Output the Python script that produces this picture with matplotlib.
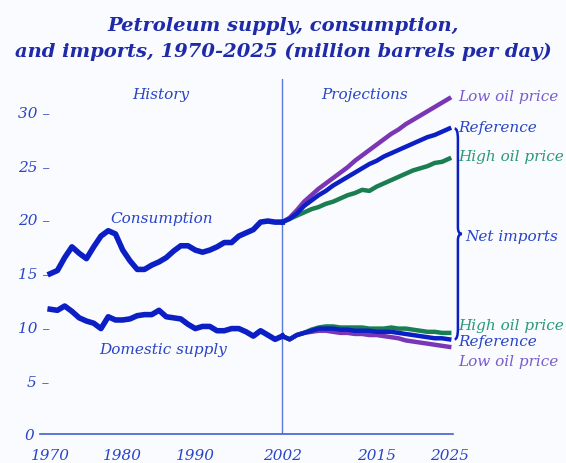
import matplotlib
matplotlib.use("Agg")
import matplotlib.pyplot as plt
from matplotlib.path import Path
from matplotlib.patches import PathPatch

# ---- data ----
hist_years = list(range(1970, 2003))
consumption_hist = [14.9, 15.2, 16.4, 17.4, 16.8, 16.3, 17.4, 18.4, 18.9, 18.6,
                    17.1, 16.1, 15.3, 15.3, 15.7, 16.0, 16.4, 17.0, 17.5, 17.5,
                    17.1, 16.9, 17.1, 17.4, 17.8, 17.8, 18.4, 18.7, 19.0, 19.7,
                    19.8, 19.7, 19.7]
supply_hist = [11.6, 11.5, 11.9, 11.4, 10.8, 10.5, 10.3, 9.8, 10.9, 10.6,
               10.6, 10.7, 11.0, 11.1, 11.1, 11.5, 10.9, 10.8, 10.7, 10.2,
               9.8, 10.0, 10.0, 9.6, 9.6, 9.8, 9.8, 9.5, 9.1, 9.6,
               9.2, 8.8, 9.1]

proj_years = list(range(2002, 2026))
cons_ref = [19.7, 20.0, 20.5, 21.2, 21.7, 22.2, 22.6, 23.1, 23.5, 23.9, 24.3, 24.7,
            25.1, 25.4, 25.8, 26.1, 26.4, 26.7, 27.0, 27.3, 27.6, 27.8, 28.1, 28.4]
cons_low = [19.7, 20.1, 20.8, 21.6, 22.2, 22.8, 23.3, 23.8, 24.3, 24.8, 25.4, 25.9,
            26.4, 26.9, 27.4, 27.9, 28.3, 28.8, 29.2, 29.6, 30.0, 30.4, 30.8, 31.2]
cons_high = [19.7, 20.0, 20.3, 20.6, 20.9, 21.1, 21.4, 21.6, 21.9, 22.2, 22.4, 22.7,
             22.6, 23.0, 23.3, 23.6, 23.9, 24.2, 24.5, 24.7, 24.9, 25.2, 25.3, 25.6]
supp_ref = [9.1, 8.8, 9.2, 9.4, 9.6, 9.8, 9.8, 9.8, 9.7, 9.7, 9.6, 9.6,
            9.6, 9.5, 9.5, 9.5, 9.4, 9.3, 9.2, 9.1, 9.0, 8.9, 8.9, 8.8]
supp_high = [9.1, 8.8, 9.2, 9.4, 9.7, 9.9, 10.0, 10.0, 9.9, 9.9, 9.9, 9.9,
             9.8, 9.8, 9.8, 9.9, 9.8, 9.8, 9.7, 9.6, 9.5, 9.5, 9.4, 9.4]
supp_low = [9.1, 8.8, 9.2, 9.4, 9.5, 9.6, 9.6, 9.5, 9.4, 9.4, 9.3, 9.3,
            9.2, 9.2, 9.1, 9.0, 8.9, 8.7, 8.6, 8.5, 8.4, 8.3, 8.2, 8.1]

x_ticks = [1970, 1980, 1990, 2002, 2015, 2025]
y_ticks = [0, 5, 10, 15, 20, 25, 30]

# ---- style ----
BLUE = "#0c1fc4"
TXT_BLUE = "#2a44c6"
PURPLE = "#7a36b4"
TXT_PURPLE = "#7a5ccc"
GREEN = "#1a7e50"
TXT_GREEN = "#2a9a78"
BG = "#f9fbfe"
FONT = "DejaVu Serif"

fig = plt.figure(figsize=(5.66, 4.64), dpi=100, facecolor=BG)
ax = fig.add_axes([0.0707, 0.0625, 0.730, 0.765])
ax.set_facecolor(BG)
ax.set_xlim(1968.6, 2025.55)
ax.set_ylim(0, 33)

for s in ["top", "right", "left"]:
    ax.spines[s].set_visible(False)
ax.spines["bottom"].set_color("#4060d0")
ax.spines["bottom"].set_linewidth(1.2)

ax.set_xticks(x_ticks)
ax.set_xticklabels([str(v) for v in x_ticks])
ax.set_yticks(y_ticks)
ax.set_yticklabels([("%d\u2003" % v) if v == 0 else ("%d \u2013" % v) for v in y_ticks])
ax.tick_params(length=0)
ax.tick_params(axis="x", pad=10)
ax.tick_params(axis="y", pad=-7)
for lab in ax.get_xticklabels() + ax.get_yticklabels():
    lab.set_fontfamily(FONT)
    lab.set_fontstyle("italic")
    lab.set_fontsize(11)
    lab.set_color(TXT_BLUE)

ax.axvline(2002, color="#5a78d8", lw=1.0, zorder=1)

lw_h = 4.0
lw_p = 3.2
ax.plot(hist_years, consumption_hist, color=BLUE, lw=lw_h, solid_joinstyle="round", zorder=3)
ax.plot(hist_years, supply_hist, color=BLUE, lw=lw_h, solid_joinstyle="round", zorder=3)
ax.plot(proj_years, cons_low, color=PURPLE, lw=lw_p, zorder=2)
ax.plot(proj_years, cons_high, color=GREEN, lw=lw_p, zorder=2)
ax.plot(proj_years, cons_ref, color=BLUE, lw=lw_p, zorder=3)
ax.plot(proj_years, supp_low, color=PURPLE, lw=lw_p, zorder=2)
ax.plot(proj_years, supp_high, color=GREEN, lw=lw_p, zorder=2)
ax.plot(proj_years, supp_ref, color=BLUE, lw=lw_p, zorder=3)

tk = dict(fontfamily=FONT, fontstyle="italic", fontsize=11)
ax.text(1985.2, 31.6, "History", color=TXT_BLUE, ha="center", va="center", **tk)
ax.text(2013.4, 31.6, "Projections", color=TXT_BLUE, ha="center", va="center", **tk)
ax.text(1985.4, 20.1, "Consumption", color=TXT_BLUE, ha="center", va="center", **tk)
ax.text(1985.6, 7.9, "Domestic supply", color=TXT_BLUE, ha="center", va="center", **tk)

lx = 2026.2
ax.text(lx, 31.4, "Low oil price", color=TXT_PURPLE, ha="left", va="center", clip_on=False, **tk)
ax.text(lx, 28.5, "Reference", color=TXT_BLUE, ha="left", va="center", clip_on=False, **tk)
ax.text(lx, 25.8, "High oil price", color=TXT_GREEN, ha="left", va="center", clip_on=False, **tk)
ax.text(2027.2, 18.4, "Net imports", color=TXT_BLUE, ha="left", va="center", clip_on=False, **tk)
ax.text(lx, 10.1, "High oil price", color=TXT_GREEN, ha="left", va="center", clip_on=False, **tk)
ax.text(lx, 8.6, "Reference", color=TXT_BLUE, ha="left", va="center", clip_on=False, **tk)
ax.text(lx, 6.8, "Low oil price", color=TXT_PURPLE, ha="left", va="center", clip_on=False, **tk)

# curly brace for net imports
top = cons_ref[-1]
bot = supp_ref[-1]
mid = (top + bot) / 2
x0 = 2025.75
xb = x0 + 0.45
xm = x0 + 1.0
verts = [
    (x0, top), (xb, top), (xb, top - 1.0),
    (xb, mid + 0.6),
    (xb, mid), (xm, mid),
    (xb, mid), (xb, mid - 0.6),
    (xb, bot + 1.0),
    (xb, bot), (x0, bot),
]
codes = [Path.MOVETO, Path.CURVE3, Path.CURVE3,
         Path.LINETO,
         Path.CURVE3, Path.CURVE3,
         Path.CURVE3, Path.CURVE3,
         Path.LINETO,
         Path.CURVE3, Path.CURVE3]
ax.add_patch(PathPatch(Path(verts, codes), fill=False, edgecolor=BLUE, lw=1.8,
                       clip_on=False, zorder=4))

title_kw = dict(ha="center", va="center", fontfamily=FONT, fontstyle="italic",
                fontweight="bold", fontsize=14.0, color="#1f2aa8")
fig.text(0.5, 0.945, "Petroleum supply, consumption,", **title_kw)
fig.text(0.5, 0.888, "and imports, 1970-2025 (million barrels per day)", **title_kw)

fig.savefig("out.png", dpi=100, facecolor=BG)
